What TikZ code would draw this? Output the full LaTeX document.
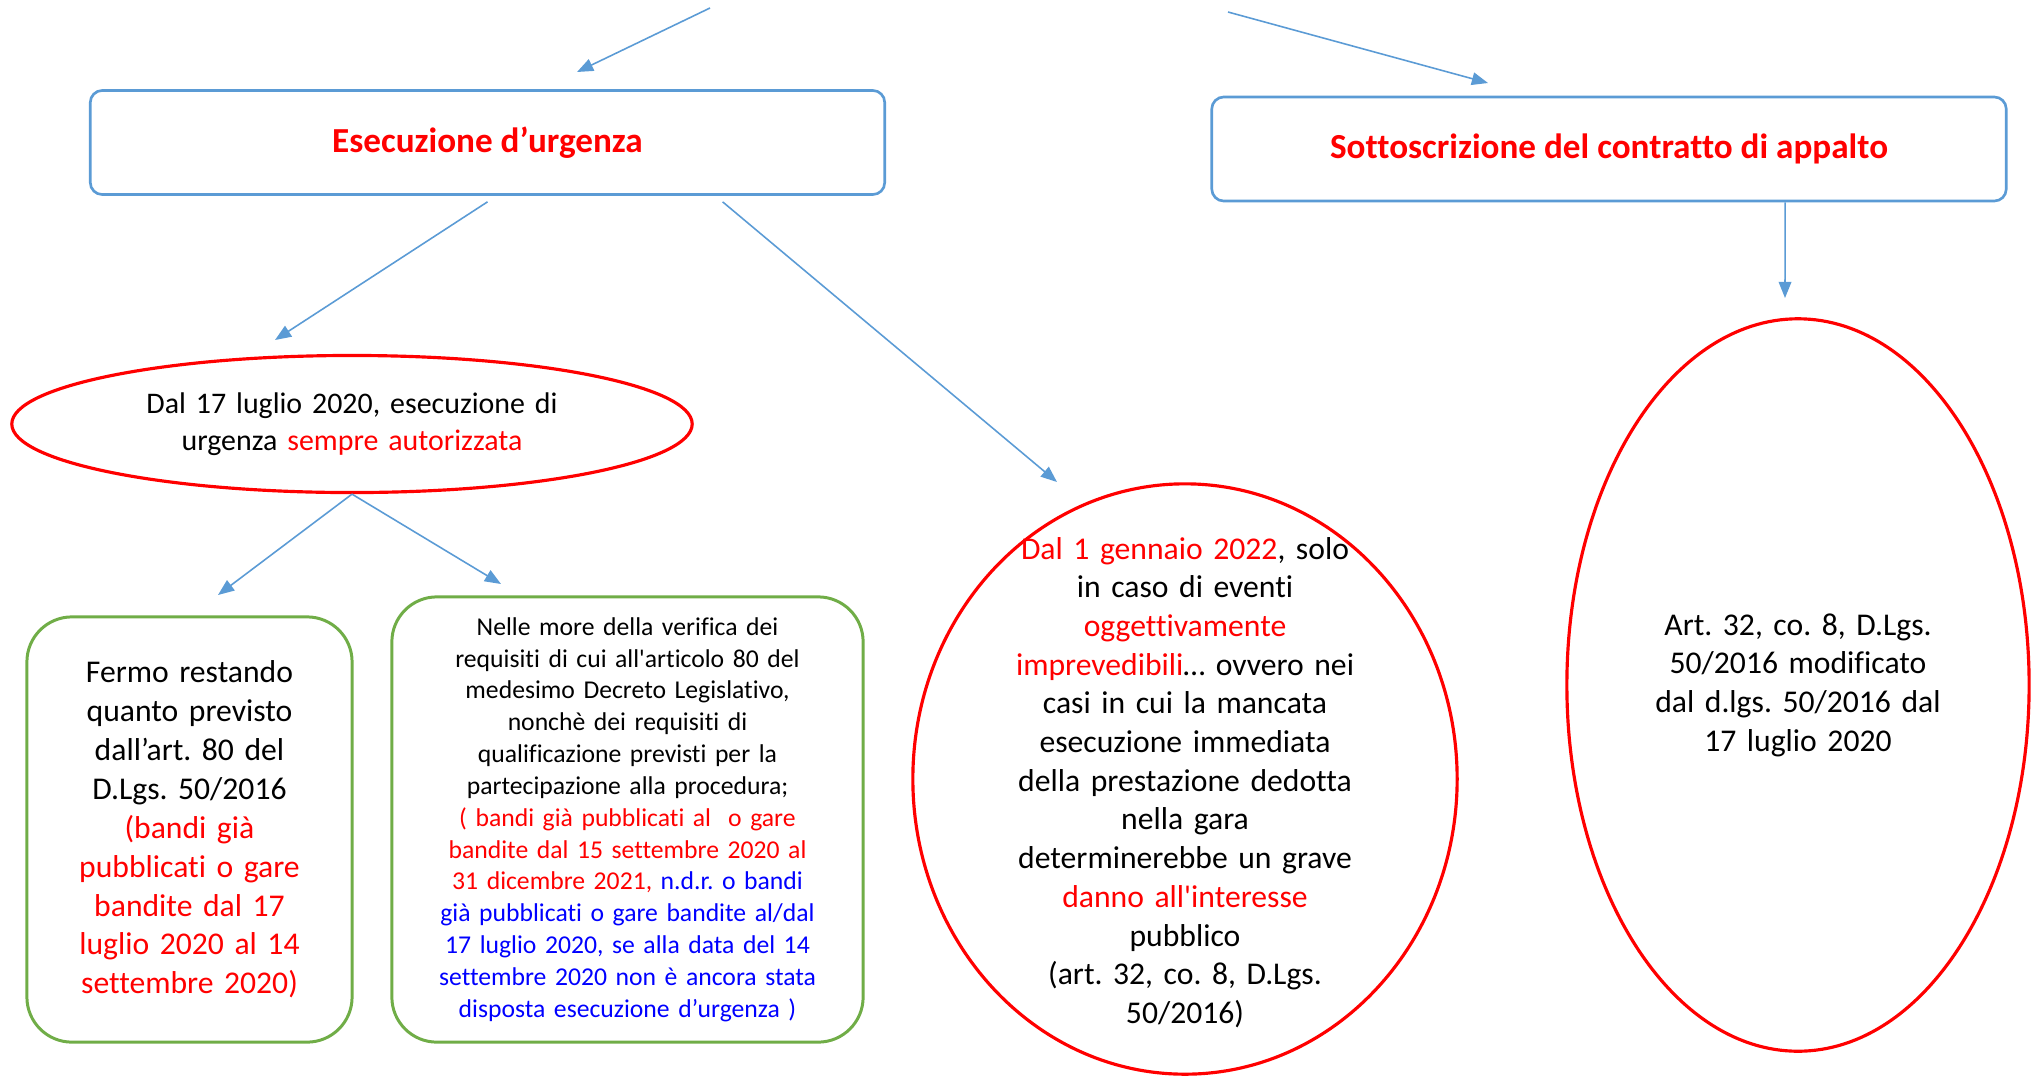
\documentclass[tikz,border=0pt]{standalone}
\usepackage{fontspec}
\setmainfont{Carlito}[Ligatures={TeXOff,NoCommon}]
\usepackage{tikz}
\usetikzlibrary{arrows.meta,shapes.geometric}
\definecolor{linea}{HTML}{5B9BD5}
\definecolor{verde}{HTML}{70AD47}
\definecolor{rosso}{HTML}{FF0000}
\definecolor{blu}{HTML}{0000FF}
\frenchspacing

\begin{document}
\begin{tikzpicture}[x=0.01cm,y=-0.01cm,
	titolo/.style={draw=linea,line width=0.75pt,rounded corners=0.12cm,minimum width=7.94cm,minimum height=1.04cm,text=rosso,font=\fontsize{10}{12}\selectfont\bfseries},
	ovale/.style={draw=rosso,line width=0.9pt,ellipse,inner sep=0pt,align=center,font=\fontsize{9}{11}\selectfont},
	scatola/.style={draw=verde,line width=0.85pt,rounded corners=0.45cm,align=center},
	freccia/.style={draw=linea,line width=0.45pt,-{Triangle[length=4.6pt,width=3.6pt]}}]
	
	\useasboundingbox (0,0) rectangle (2033,1075);
	
	\node[titolo] (urgenza) at (487.5,142.5) {Esecuzione d’urgenza};
	\node[titolo] (contratto) at (1609,149) {Sottoscrizione del contratto di appalto};
	
	\node[ovale,minimum width=6.80cm,minimum height=1.37cm,text width=4.6cm,font=\fontsize{8.5}{10.7}\selectfont] (sempre) at (352,424)
	{Dal 17 luglio 2020, esecuzione di\\ urgenza \textcolor{rosso}{sempre autorizzata}};
	
	\node[scatola,minimum width=3.25cm,minimum height=4.25cm,text width=2.9cm,font=\fontsize{9}{11.05}\selectfont] (fermo) at (189.5,829.5)
	{Fermo restando\\ quanto previsto\\ dall’art. 80 del\\ D.Lgs. 50/2016\\
	\textcolor{rosso}{(bandi già\\ pubblicati o gare\\ bandite dal 17\\ luglio 2020 al 14\\ settembre 2020)}};
	
	\node[scatola,minimum width=4.71cm,minimum height=4.45cm,text width=4.3cm,font=\fontsize{7.3}{9.05}\selectfont] (more) at (627.5,819.5)
	{Nelle more della verifica dei\\ requisiti di cui all'articolo 80 del\\ medesimo Decreto Legislativo,\\ nonchè dei requisiti di\\
	qualificazione previsti per la\\ partecipazione alla procedura;\\
	\textcolor{rosso}{( bandi già pubblicati al\ \ o gare\\ bandite dal 15 settembre 2020 al\\ 31 dicembre 2021,}
	\textcolor{blu}{n.d.r. o bandi\\ già pubblicati o gare bandite al/dal\\ 17 luglio 2020, se alla data del 14\\ settembre 2020 non è ancora stata\\ disposta esecuzione d’urgenza )}};
	
	\node[ovale,minimum width=5.44cm,minimum height=5.90cm] (gennaio) at (1185,779) {};
	\node[align=center,text width=4.0cm,inner sep=0pt,font=\fontsize{9}{11}\selectfont] (gennaio testo) at (1185,782.5)
	{\textcolor{rosso}{Dal 1 gennaio 2022}, solo\\ in caso di eventi\\ \textcolor{rosso}{oggettivamente}\\
	\textcolor{rosso}{imprevedibili}… ovvero nei\\ casi in cui la mancata\\ esecuzione immediata\\ della prestazione dedotta\\
	nella gara\\ determinerebbe un grave\\ \textcolor{rosso}{danno all'interesse}\\ pubblico\\ (art. 32, co. 8, D.Lgs.\\ 50/2016)};
	
	\node[ovale,minimum width=4.62cm,minimum height=7.32cm,text width=3.0cm] (modifica) at (1798,685)
	{Art. 32, co. 8, D.Lgs.\\ 50/2016 modificato\\ dal d.lgs. 50/2016 dal\\ 17 luglio 2020};
	
	\coordinate (da sx) at (710,8);
	\coordinate (da dx) at (1228,12);
	\coordinate (a urgenza) at (577,72);
	\coordinate (a contratto) at (1488,83);
	\coordinate (a sempre) at (275,340);
	\coordinate (a gennaio) at (1057,482);
	\coordinate (a modifica) at (1785,298);
	\coordinate (a fermo) at (218,595);
	\coordinate (a more) at (501,584);
	
	\draw[freccia] (da sx) -- (a urgenza);
	\draw[freccia] (da dx) -- (a contratto);
	\draw[freccia] ([yshift=-0.06cm]urgenza.south) -- (a sempre);
	\draw[freccia] ([xshift=2.35cm,yshift=-0.06cm]urgenza.south) -- (a gennaio);
	\draw[freccia] ([xshift=1.76cm]contratto.south) -- (a modifica);
	\draw[freccia] (sempre.south) -- (a fermo);
	\draw[freccia] (sempre.south) -- (a more);
\end{tikzpicture}
\end{document}
